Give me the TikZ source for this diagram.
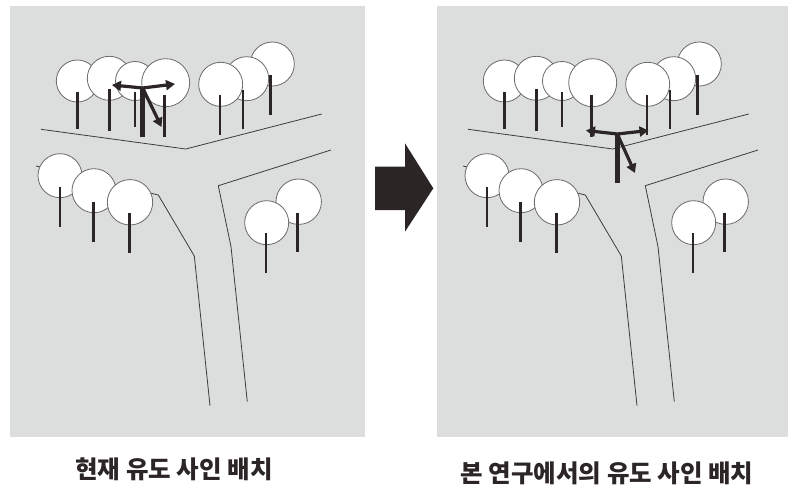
\documentclass[tikz,border=0pt]{standalone}
\usepackage{fontspec}
\usepackage{xcolor}
\usetikzlibrary{arrows.meta,positioning}
\newfontfamily\kr{Noto Sans CJK KR}

\definecolor{panelgrey}{HTML}{DCDDDD}
\definecolor{inkdark}{HTML}{2B2526}
\definecolor{roadgrey}{HTML}{3C3C3C}
\definecolor{crownline}{HTML}{6A6A6A}

\tikzset{
  panel/.style={fill=panelgrey, draw=none},
  road/.style={draw=roadgrey, line width=0.8pt, line join=round},
  crown/.style={draw=crownline, fill=white, line width=0.8pt},
  trunk/.style={draw=inkdark, line width=2.6pt},
  signpost/.style={draw=inkdark, line width=4.6pt},
  signarrow/.style={draw=inkdark, line width=3.2pt, -{Triangle[length=9pt,width=10pt]}},
  bigarrow/.style={fill=inkdark, draw=none},
  caption/.style={font=\kr\bfseries\fontsize{24.5}{28}\selectfont, text=inkdark, inner sep=0pt}
}

\begin{document}
\begin{tikzpicture}[x=1pt,y=-1pt]
  \useasboundingbox (0,0) rectangle (788,487);

  % Drawing the two grey panels
  \fill[panel] (10,6) rectangle (365,437);
  \fill[panel] (437,6) rectangle (788,437);

  % Same streets and trees in both panels
  \foreach \dx in {0,427}{
  \begin{scope}[xshift=\dx pt]
    % Drawing street edges
    \draw[road] (41,129.3) -- (185.7,149) -- (321.7,114);
    \draw[road] (36,166) -- (158.3,195) -- (194.3,256) -- (210,405.7);
    \draw[road] (331,150) -- (218.3,185.7) -- (231,246.7) -- (247.3,401.7);

    % Drawing upper row of tree crowns
    \draw[crown] (77.3,81) circle[radius=21];
    \draw[crown] (109.3,78.3) circle[radius=22];
    \draw[crown] (135,81) circle[radius=19.5];
    \draw[crown] (165.7,82.7) circle[radius=24];
    \draw[crown] (272.3,64) circle[radius=22];
    \draw[crown] (246.7,78.7) circle[radius=22];
    \draw[crown] (220.7,84.3) circle[radius=22];

    % Drawing lower tree crowns
    \draw[crown] (60,175.7) circle[radius=22];
    \draw[crown] (94,190.7) circle[radius=22];
    \draw[crown] (130,202.3) circle[radius=22.7];
    \draw[crown] (298.7,201.7) circle[radius=22.7];
    \draw[crown] (266.7,222.7) circle[radius=22];

    % Drawing trunks
    \draw[trunk] (77.3,92) -- (77.3,129);
    \draw[trunk] (109.3,89) -- (109.3,131);
    \draw[trunk] (135,92) -- (135,127);
    \draw[trunk] (164.7,95) -- (164.7,137);
    \draw[trunk] (220,95) -- (220,135);
    \draw[trunk] (243,90) -- (243,129);
    \draw[trunk] (270.7,75) -- (270.7,115);
    \draw[trunk] (60,186.7) -- (60,226.7);
    \draw[trunk] (93.7,201.7) -- (93.7,241.7);
    \draw[trunk] (129.7,213.3) -- (129.7,252.7);
    \draw[trunk] (266,233.3) -- (266,273.3);
    \draw[trunk] (297.7,212.7) -- (297.7,252.3);
  \end{scope}
  }

  % Drawing the sign among the trees
  \coordinate (oldtop) at (142.7,88);
  \draw[signpost] (142.7,137) -- (oldtop);
  \draw[signarrow] (oldtop) -- (112,85);
  \draw[signarrow] (oldtop) -- (175,84);
  \draw[signarrow] (oldtop) -- (161.5,127);

  % Drawing the sign at the street corner
  \coordinate (newtop) at (617.3,134);
  \draw[signpost] (617.3,183) -- (newtop);
  \draw[signarrow] (newtop) -- (586,130.5);
  \draw[signarrow] (newtop) -- (648.5,130.5);
  \draw[signarrow] (newtop) -- (635,173);

  % Drawing the arrow between panels
  \fill[bigarrow] (375,166.7) -- (405,166.7) -- (405,143.3) -- (433.3,188.3)
    -- (405,231.7) -- (405,210) -- (375,210) -- cycle;

  % Marking captions
  \node[caption] (capold) at (174,469) {현재 유도 사인 배치};
  \node[caption] (capnew) at (607,473) {본 연구에서의 유도 사인 배치};
\end{tikzpicture}
\end{document}
